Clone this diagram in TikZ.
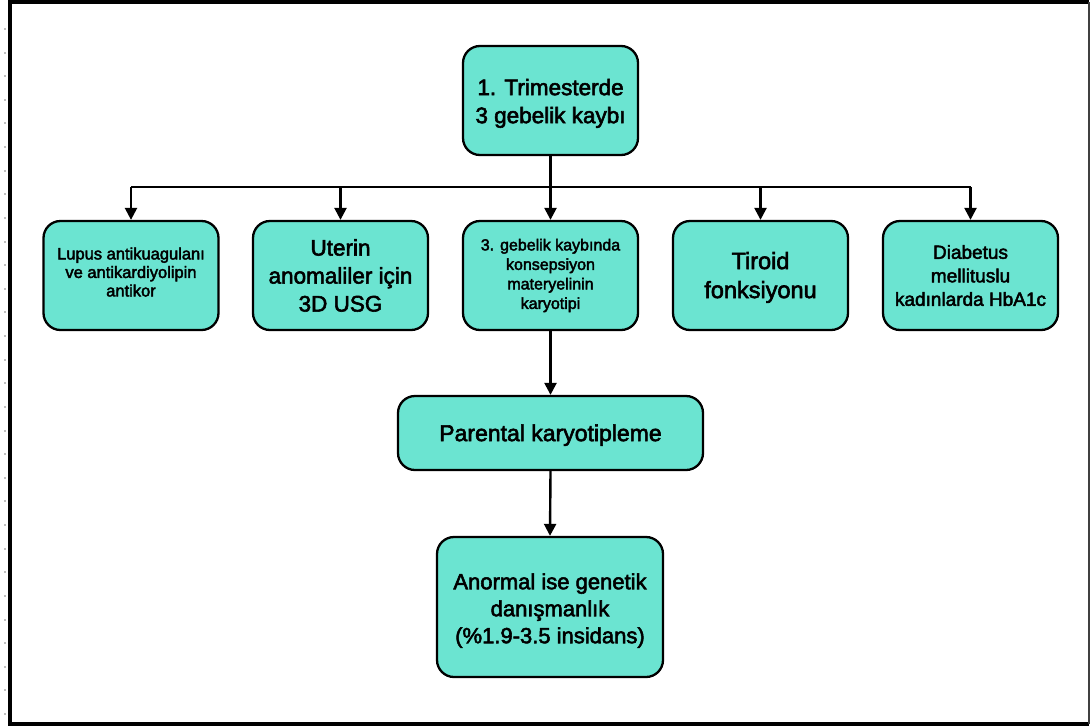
\documentclass[tikz,border=0pt]{standalone}
\usepackage{fontspec}
\setmainfont{Liberation Sans}[FakeBold=2.5]
\usetikzlibrary{arrows.meta}
\definecolor{boxfill}{HTML}{6BE4D1}
\tikzset{
  box/.style={draw=black, line width=2.3pt, fill=boxfill, rounded corners=17pt,
    align=center, inner sep=2pt, text=black},
  big/.style={font=\fontsize{22.5}{28}\selectfont},
  conn/.style={draw=black, line width=2.4pt},
  arr/.style={conn, -{Triangle[width=12pt,length=12pt]}},
}
\begin{document}
\begin{tikzpicture}[x=1pt,y=-1pt]
\useasboundingbox (0,0) rectangle (1091,726);
% frame
\draw[line width=3.6pt] (1089,2) -- (10,2) -- (10,724) -- (1089,724);
\draw[line width=1.6pt, black!75] (1089,2) -- (1089,724);
\foreach \i in {0,...,29} {\fill[black!25] (4,{29+23.62*\i-1}) rectangle (6,{29+23.62*\i+1});}
% nodes
\node[box, big, minimum width=175pt, minimum height=109pt] (top) at (550.5,100.5) {\rule{0pt}{22pt}1. Trimesterde\\3 gebelik kaybı};
\node[box, align=none, font=\fontsize{16.5}{18.5}\selectfont, minimum width=175pt, minimum height=109pt] (b1) at (131,275.5) {\begin{tabular}{@{}c@{}}Lupus antikuagulanı\\ve antikardiyolipin\\antikor\end{tabular}\rule[-26pt]{0pt}{1pt}};
\node[box, big, minimum width=175pt, minimum height=109pt] (b2) at (340.5,275.5) {Uterin\\anomaliler için\\3D USG};
\node[box, font=\fontsize{16}{19.5}\selectfont, minimum width=175pt, minimum height=109pt] (b3) at (550.5,275.5) {3. gebelik kaybında\\konsepsiyon\\materyelinin\\karyotipi};
\node[box, font=\fontsize{23.5}{29}\selectfont, minimum width=175pt, minimum height=109pt] (b4) at (760.5,275.5) {\rule{0pt}{21pt}Tiroid\\fonksiyonu};
\node[box, font=\fontsize{19}{23.5}\selectfont, minimum width=175pt, minimum height=109pt] (b5) at (970.5,275.5) {Diabetus\\mellituslu\\kadınlarda HbA1c};
\node[box, font=\fontsize{23}{28}\selectfont, minimum width=305pt, minimum height=74pt] (par) at (550.5,433) {\rule{0pt}{21pt}Parental karyotipleme};
\node[box, minimum width=226pt, minimum height=140pt, font=\fontsize{22}{27}\selectfont] (res) at (550,607) {\rule{0pt}{23pt}Anormal ise genetik\\danışmanlık\\(\%1.9-3.5 insidans)};
% connectors
\coordinate (busL) at (131,187);
\coordinate (busR) at (970.5,187);
\draw[conn] (top.south) -- (top.south |- busL);
\draw[conn] (busL) -- (busR);
\draw[arr] (busL) -- (b1.north);
\draw[arr] (b2.north |- busL) -- (b2.north);
\draw[arr] (b3.north |- busL) -- (b3.north);
\draw[arr] (b4.north |- busL) -- (b4.north);
\draw[arr] (busR) -- (b5.north);
\draw[arr] (b3.south) -- (par.north);
\draw[arr] (par.south) -- (res.north);
\end{tikzpicture}
\end{document}
